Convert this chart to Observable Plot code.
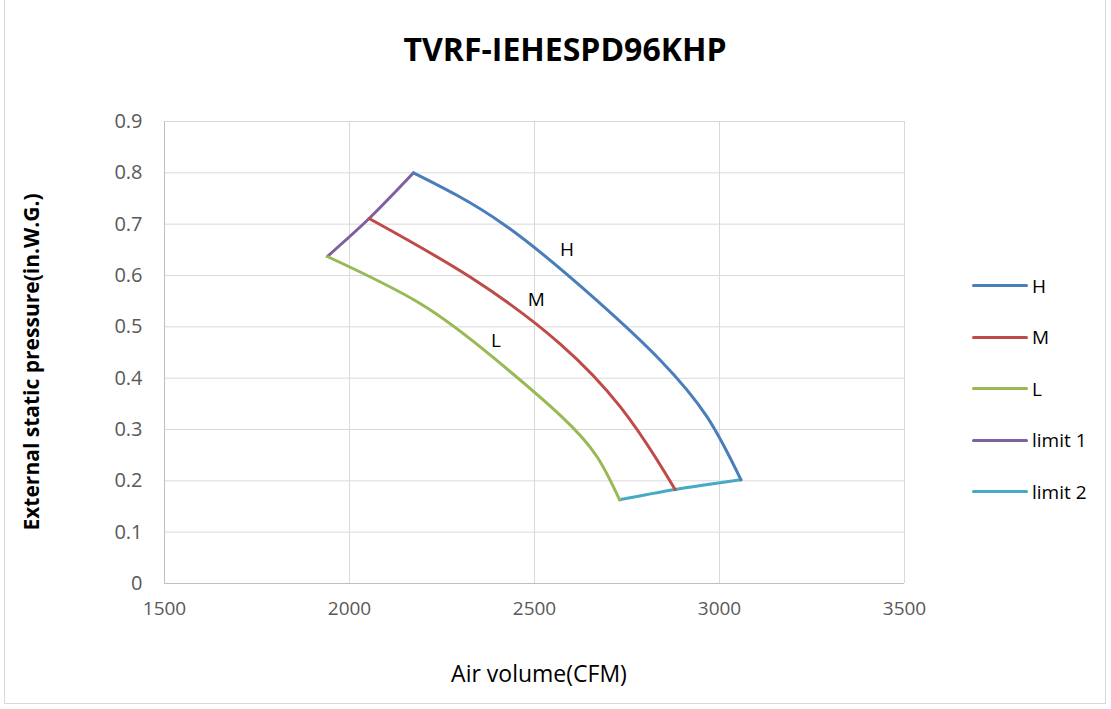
<!DOCTYPE html>
<html>
<head>
<meta charset="utf-8">
<script src="https://cdn.jsdelivr.net/npm/d3@7"></script>
<script src="https://cdn.jsdelivr.net/npm/@observablehq/plot@0.6"></script>
<style>
  html, body { margin: 0; padding: 0; background: #fff; }
  #wrap { position: relative; width: 1111px; height: 709px; overflow: hidden; font-family: "Open Sans", "Noto Sans", sans-serif; }
  #border { position: absolute; left: 4px; top: -2px; width: 1102px; height: 706px; border: 1px solid #d9d9d9; box-sizing: border-box; pointer-events: none; }
  #title { position: absolute; left: 565px; top: 48px; transform: translate(-50%, -50%); white-space: nowrap; font-weight: bold; font-size: 32px; color: #000; }
  #ytitle { position: absolute; left: 31px; top: 362px; transform: translate(-50%, -50%) rotate(-90deg); white-space: nowrap; font-weight: bold; font-size: 21px; color: #000; }
  #xtitle { position: absolute; left: 539px; top: 673px; transform: translate(-50%, -50%); white-space: nowrap; font-size: 23px; color: #000; }
  #legend { position: absolute; left: 972px; top: 260px; }
  .item { display: flex; align-items: center; height: 51.5px; font-size: 19px; color: #000; }
  .swatch { width: 56px; height: 3px; border-radius: 2px; margin-right: 4px; }
  svg { position: absolute; left: 0; top: 0; }
</style>
</head>
<body>
<div id="wrap">
  <div id="chart"></div>
  <div id="title"></div>
  <div id="ytitle"></div>
  <div id="xtitle"></div>
  <div id="legend"></div>
  <div id="border"></div>
</div>
<script>
const chartTitle = "TVRF-IEHESPD96KHP";
const xTitle = "Air volume(CFM)";
const yTitle = "External static pressure(in.W.G.)";

const seriesNames = ["H", "M", "L", "limit 1", "limit 2"];
const seriesColors = ["#4a7ebb", "#be4b48", "#98b954", "#7d60a0", "#46aac5"];

const hX = [2173, 2416, 2669, 2840, 2966, 3058];
const hY = [0.800, 0.700, 0.551, 0.435, 0.325, 0.202];
const mX = [2053, 2326, 2569, 2732, 2831, 2880];
const mY = [0.711, 0.597, 0.467, 0.344, 0.241, 0.183];
const lX = [1940, 2192, 2394, 2569, 2669, 2730];
const lY = [0.637, 0.545, 0.437, 0.328, 0.247, 0.163];
const limit1X = [1940, 2053, 2173];
const limit1Y = [0.637, 0.711, 0.800];
const limit2X = [2730, 2880, 3058];
const limit2Y = [0.163, 0.183, 0.202];

const labelText = ["H", "M", "L"];
const labelX = [2588, 2505, 2396];
const labelY = [0.650, 0.553, 0.473];

const xTicks = [1500, 2000, 2500, 3000, 3500];
const yTicks = [0, 0.1, 0.2, 0.3, 0.4, 0.5, 0.6, 0.7, 0.8, 0.9];

const seriesX = [hX, mX, lX, limit1X, limit2X];
const seriesY = [hY, mY, lY, limit1Y, limit2Y];
const rows = [];
seriesNames.forEach((s, i) => seriesX[i].forEach((x, j) => rows.push({series: s, x, y: seriesY[i][j]})));
const curveRows = rows.filter(d => !d.series.startsWith("limit"));
const limitRows = rows.filter(d => d.series.startsWith("limit"));
const labels = labelText.map((t, i) => ({t, x: labelX[i], y: labelY[i]}));

const chart = Plot.plot({
  width: 1111,
  height: 709,
  marginLeft: 164,
  marginRight: 207,
  marginTop: 121,
  marginBottom: 126,
  style: {fontFamily: '"Open Sans", "Noto Sans", sans-serif', fontSize: "19px", color: "#595959", background: "transparent"},
  x: {domain: [1500, 3500], ticks: xTicks},
  y: {domain: [0, 0.9], ticks: yTicks},
  color: {domain: seriesNames, range: seriesColors},
  marks: [
    Plot.gridX(xTicks, {stroke: "#d9d9d9", strokeOpacity: 1}),
    Plot.gridY(yTicks, {stroke: "#d9d9d9", strokeOpacity: 1}),
    Plot.ruleX([1500], {stroke: "#bfbfbf"}),
    Plot.ruleY([0], {stroke: "#bfbfbf"}),
    Plot.axisX(xTicks, {tickSize: 0, tickPadding: 18, fontSize: 19, tickFormat: d => String(d), label: null, fill: "#595959"}),
    Plot.axisY(yTicks, {tickSize: 0, tickPadding: 22, fontSize: 20, tickFormat: d => String(d), label: null, fill: "#595959"}),
    Plot.line(limitRows, {x: "x", y: "y", z: "series", stroke: "series", strokeWidth: 3, curve: "monotone-x"}),
    Plot.line(curveRows, {x: "x", y: "y", z: "series", stroke: "series", strokeWidth: 3, curve: "natural"}),
    Plot.text(labels, {x: "x", y: "y", text: "t", fill: "#000", fontSize: 19})
  ]
});
document.getElementById("chart").appendChild(chart);

document.getElementById("title").textContent = chartTitle;
document.getElementById("xtitle").textContent = xTitle;
document.getElementById("ytitle").textContent = yTitle;
const legend = document.getElementById("legend");
seriesNames.forEach((s, i) => {
  const item = document.createElement("div");
  item.className = "item";
  const sw = document.createElement("div");
  sw.className = "swatch";
  sw.style.background = seriesColors[i];
  const tx = document.createElement("span");
  tx.textContent = s;
  item.appendChild(sw);
  item.appendChild(tx);
  legend.appendChild(item);
});
</script>
</body>
</html>
